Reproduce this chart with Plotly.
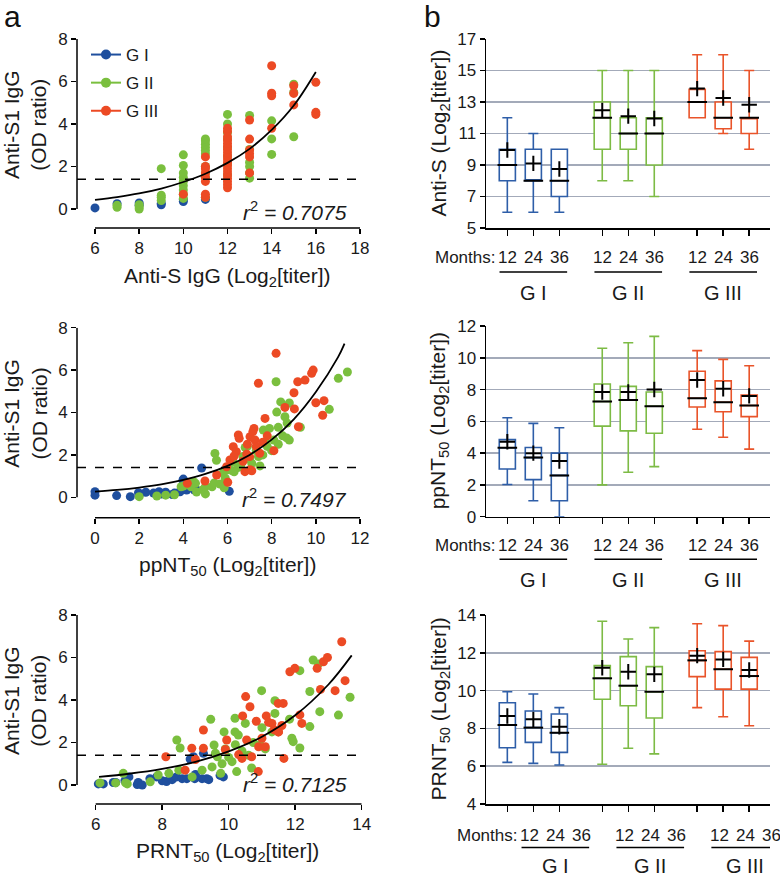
import plotly.graph_objects as go

W, H = 780, 876
FONT = "Arial, Liberation Sans, Helvetica, sans-serif"
BLUE, GREEN, RED = "#1f4f9e", "#7abf3e", "#ec4a24"
BBLUE, BGREEN, BRED = "#2e5ea8", "#7dbb45", "#e9542a"
GRID = "#a3aab9"
TXT = "#1a1a1a"

# ---------------- Panel a data ----------------
# Top: Anti-S IgG (Log2 titer) vs Anti-S1 IgG (OD ratio)
s_gI_x = [6, 7, 8, 8, 9, 9, 10, 10, 11]
s_gI_y = [0.05, 0.25, 0.28, 0.18, 0.2, 0.27, 0.35, 0.45, 0.45]
s_gII_x = [7, 7, 8, 8, 8, 9, 9, 9, 9,
           10, 10, 10, 10, 10, 10, 10, 10, 10,
           11, 11, 11, 11, 11, 11, 11, 11, 11, 11,
           12, 12, 12, 12, 12, 12, 12, 12,
           13, 13, 13, 13, 13, 13,
           14, 14, 14, 15, 15, 15]
s_gII_y = [0.08, 0.18, 0.0, 0.1, 0.2, 0.4, 0.55, 0.65, 1.9,
           0.5, 0.7, 0.9, 1.1, 1.3, 1.5, 1.7, 2.05, 2.55,
           0.55, 1.5, 1.7, 2.0, 2.6, 2.75, 2.9, 3.05, 3.2, 3.3,
           1.6, 2.1, 2.5, 2.9, 3.3, 3.6, 4.0, 4.45,
           1.45, 1.7, 2.0, 2.2, 2.8, 4.4,
           2.57, 3.3, 4.15, 3.4, 5.5, 5.87]
s_gIII_x = [10,
            11, 11, 11, 11, 11, 11, 11, 11,
            12, 12, 12, 12, 12, 12, 12, 12, 12, 12, 12, 12, 12, 12, 12, 12, 12, 12, 12,
            13, 13, 13, 13, 13, 13,
            14, 14, 14, 14, 15, 15, 15, 16, 16, 16]
s_gIII_y = [0.7,
            0.55, 0.7, 1.3, 1.5, 1.7, 1.9, 2.0, 2.45,
            1.0, 1.15, 1.3, 1.45, 1.6, 1.75, 1.9, 2.05, 2.2, 2.35, 2.5, 2.65, 2.8, 2.95, 3.1,
            3.25, 3.4, 3.65, 3.8,
            1.7, 2.45, 2.6, 2.78, 3.29, 4.19,
            3.8, 5.33, 5.45, 6.74, 4.9, 5.44, 5.8, 4.45, 4.55, 5.96]
s_fit_x = [6, 7, 8, 9, 10, 11, 12, 13, 14, 15, 16]
s_fit_y = [0.43, 0.56, 0.73, 0.96, 1.27, 1.66, 2.17, 2.83, 3.72, 4.87, 6.45]

# Middle: ppNT50
p_gI_x = [0, 0, 0.98, 1.6, 1.97, 2.3, 2.65, 2.9, 3.2, 3.5, 3.85, 3.98, 4.15, 4.5,
          4.83, 6.08, 4.3, 3.0, 2.0, 3.6, 4.0, 4.6]
p_gI_y = [0.26, 0.1, 0.08, 0.03, 0.22, 0.24, 0.2, 0.26, 0.24, 0.13, 0.26, 0.8, 0.34, 0.34,
          1.38, 0.28, 0.45, 0.15, 0.1, 0.2, 0.86, 0.35]
p_gII_x = [2.0, 2.8, 3.2, 3.6, 3.9, 4.0, 4.35, 4.45, 4.55, 4.6, 4.9, 5.0, 5.0, 5.3, 5.4,
           5.43, 5.5, 5.66, 5.8, 5.85, 6.0, 6.2, 6.26, 6.49, 6.6, 6.7, 6.8, 6.9, 7.1,
           7.3, 7.4, 7.47, 7.6, 7.62, 7.7, 7.8, 7.9, 8.0, 8.1, 8.2, 8.23, 8.3, 8.3, 8.41,
           8.5, 8.6, 8.7, 8.8, 8.8, 9.3, 10.61, 11.02, 11.43, 7.0, 6.3, 5.9, 8.68]
p_gII_y = [0.03, 0.06, 0.1, 0.12, 0.5, 0.53, 0.5, 0.75, 0.66, 0.25, 0.37, 0.16, 0.5, 0.5,
           0.68, 2.07, 1.75, 0.63, 1.15, 0.45, 1.3, 1.26, 1.66, 1.41, 1.5, 1.92, 2.35, 2.4,
           1.6, 2.2, 1.92, 1.48, 2.0, 3.17, 2.6, 2.4, 3.25, 2.2, 2.7, 5.45, 4.02, 2.5, 3.3,
           4.5, 2.9, 3.8, 3.5, 4.45, 2.7, 3.3, 4.15, 5.61, 5.91, 1.8, 1.2, 0.9, 2.8]
p_gIII_x = [4.18, 4.98, 5.51, 5.96, 6.01, 6.11, 6.26, 6.4, 6.49, 6.53, 6.79, 6.87, 7.0,
            7.02, 7.02, 7.2, 7.25, 7.3, 7.4, 7.46, 7.7, 8.2, 8.6, 9.01, 9.03, 9.18, 9.21,
            9.51, 9.81, 9.88, 10.0, 10.37, 10.31, 6.7, 7.1, 6.9, 7.6, 8.1, 7.8, 6.3, 7.15]
p_gIII_y = [0.66, 0.77, 1.05, 1.44, 0.71, 1.76, 2.39, 2.15, 2.94, 2.78, 1.21, 2.04, 1.92,
            2.86, 1.3, 3.25, 2.7, 2.4, 5.38, 2.08, 3.72, 6.79, 4.24, 4.93, 4.17, 5.45, 3.33,
            5.53, 5.85, 6.0, 4.46, 4.56, 3.87, 1.7, 1.25, 2.5, 2.6, 2.2, 2.9, 1.95, 3.1]
p_fit_x = [0, 1, 2, 3, 4, 5, 6, 7, 8, 9, 10, 11, 11.3]
p_fit_y = [0.27, 0.35, 0.46, 0.61, 0.82, 1.1, 1.48, 2.0, 2.72, 3.68, 4.97, 6.6, 7.25]

# Bottom: PRNT50
r_gI_x = [6.08, 6.23, 6.53, 6.6, 6.88, 7.0, 7.25, 7.28, 7.4, 7.63, 7.83, 8.0, 8.13, 8.3,
          8.43, 8.6, 8.74, 8.84, 8.94, 8.98, 9.2, 9.24, 9.34, 9.4, 9.74, 9.84, 9.0]
r_gI_y = [0.05, 0.05, 0.12, 0.12, 0.2, 0.38, 0.02, 0.12, 0.0, 0.3, 0.38, 0.2, 0.16, 0.25,
          0.38, 0.3, 0.3, 1.22, 1.33, 0.3, 0.3, 1.49, 0.3, 0.25, 0.45, 0.38, 0.5]
r_gII_x = [6.13, 6.6, 6.83, 6.9, 6.95, 7.64, 7.88, 8.2, 8.44, 8.5, 8.54, 8.9, 9.2, 9.46,
           9.56, 9.6, 9.66, 9.76, 9.8, 9.86, 9.9, 10.0, 10.1, 10.19, 10.19, 10.24, 10.29,
           10.4, 10.6, 10.69, 10.74, 10.94, 10.99, 11.1, 11.3, 11.39, 11.39, 11.83, 11.9,
           11.94, 12.14, 12.14, 12.44, 12.44, 12.54, 12.74, 12.7, 13.3, 13.65, 10.5, 11.0,
           9.5, 10.2]
r_gII_y = [0.1, 0.1, 0.55, 0.1, 0.05, 0.15, 0.47, 0.55, 2.12, 0.7, 1.74, 0.38, 0.7, 3.09,
           1.88, 1.5, 1.33, 0.55, 1.0, 2.5, 1.7, 1.3, 1.1, 3.14, 2.5, 0.63, 2.35,
           1.6, 1.4, 0.8, 2.0, 1.9, 4.44, 1.7, 2.5, 3.97, 3.37, 3.1, 2.2,
           2.04, 1.74, 5.38, 4.4, 2.75, 5.88, 3.45, 5.7, 3.29, 4.13, 2.9, 2.7,
           0.85, 1.9]
r_gIII_x = [8.11, 8.69, 8.89, 9.0, 9.24, 9.24, 9.94, 9.9, 10.3, 10.42, 10.51, 10.54, 10.64,
            10.69, 10.83, 10.89, 11.13, 11.2, 11.37, 11.49, 11.49, 11.6, 11.64, 11.66, 12.14,
            12.2, 11.84, 11.99, 12.66, 12.85, 12.97, 12.76, 13.2, 13.5, 13.4, 10.4, 11.0,
            11.5, 11.3, 10.9, 11.1]
r_gIII_y = [1.33, 0.7, 1.73, 1.2, 2.59, 1.73, 2.12, 1.67, 1.43, 3.25, 4.16, 2.12, 3.68,
            1.33, 3.0, 0.63, 3.25, 2.95, 2.6, 3.84, 2.5, 2.8, 3.84, 1.25, 3.3,
            2.9, 5.33, 5.49, 5.49, 5.8, 6.0, 4.5, 4.44, 4.91, 6.74, 1.25, 2.2,
            2.5, 2.9, 1.8, 1.8]
r_fit_x = [6.1, 7, 8, 9, 10, 11, 12, 13, 13.7]
r_fit_y = [0.38, 0.53, 0.76, 1.09, 1.58, 2.27, 3.28, 4.73, 6.1]

cutoff = 1.4
r2_labels = ["0.7075", "0.7497", "0.7125"]

# ---------------- Panel b data ----------------
groups = ["G I", "G II", "G III"]
months = ["12", "24", "36"]
box_pos = [0, 1, 2, 3.65, 4.65, 5.65, 7.3, 8.3, 9.3]

as_lo = [6, 6, 6, 8, 8, 7, 12, 11, 10]
as_q1 = [8, 8, 7, 10, 10, 9, 12, 11.3, 11]
as_med = [9, 8, 8, 12, 11, 11, 13, 12, 12]
as_q3 = [10, 10, 10, 13, 12, 12, 13.8, 13, 12]
as_hi = [12, 11, 10, 15, 15, 15, 16, 16, 15]
as_mean = [9.95, 9.1, 8.75, 12.47, 12.1, 11.95, 13.85, 13.25, 12.83]

pp_lo = [2.03, 1.0, 0.0, 2.0, 2.8, 3.15, 5.5, 5.0, 4.25]
pp_q1 = [3.0, 2.33, 1.0, 5.7, 5.4, 5.25, 6.9, 6.6, 6.3]
pp_med = [4.34, 3.72, 2.6, 7.25, 7.35, 6.95, 7.45, 7.2, 7.0]
pp_q3 = [4.85, 4.35, 4.0, 8.35, 8.2, 7.85, 9.15, 8.55, 7.65]
pp_hi = [6.23, 5.87, 5.6, 10.6, 10.95, 11.35, 10.45, 9.9, 9.5]
pp_mean = [4.72, 4.0, 3.5, 7.85, 7.85, 8.0, 8.6, 8.05, 7.6]

pr_lo = [6.2, 6.15, 6.06, 6.1, 6.95, 6.65, 9.1, 8.62, 8.14]
pr_q1 = [6.98, 7.26, 6.73, 9.54, 9.2, 8.55, 10.74, 10.08, 10.08]
pr_med = [8.18, 8.04, 7.77, 10.65, 10.26, 9.94, 11.6, 11.13, 10.77]
pr_q3 = [9.36, 8.92, 8.76, 11.32, 11.8, 11.27, 12.11, 12.06, 11.76]
pr_hi = [9.94, 9.82, 9.1, 13.67, 12.73, 13.33, 13.54, 13.44, 12.62]
pr_mean = [8.66, 8.48, 8.09, 11.21, 11.0, 10.86, 11.85, 11.65, 11.09]

# ---------------- helpers ----------------
def px(x):
    return x / W

def py(y):
    return 1 - y / H

fig = go.Figure()
ann = []
shapes = []

scatter_sets = [
    (s_gI_x, s_gI_y, s_gII_x, s_gII_y, s_gIII_x, s_gIII_y, s_fit_x, s_fit_y),
    (p_gI_x, p_gI_y, p_gII_x, p_gII_y, p_gIII_x, p_gIII_y, p_fit_x, p_fit_y),
    (r_gI_x, r_gI_y, r_gII_x, r_gII_y, r_gIII_x, r_gIII_y, r_fit_x, r_fit_y),
]
# layout geometry (pixels)
a_ydom = [(39, 228), (327.7, 517.7), (615, 804)]
a_xdom = [(77, 360), (77, 360), (77, 361.7)]
a_xrange = [[5.185, 18], [-0.815, 12], [5.438, 14]]
a_xticks = [list(range(6, 19, 2)), list(range(0, 13, 2)), list(range(6, 15, 2))]
a_xline = [(6, 18), (0, 12), (6, 14)]
a_yrange = [[-0.894, 8], [-0.962, 8], [-0.894, 8]]
a_xtitles = ["Anti-S IgG (Log<sub>2</sub>[titer])",
             "ppNT<sub>50</sub> (Log<sub>2</sub>[titer])",
             "PRNT<sub>50</sub> (Log<sub>2</sub>[titer])"]
a_xtitle_y = [277, 566, 852]
a_r2_y = [211, 498, 783]

layout = dict(width=W, height=H, margin=dict(l=0, r=0, t=0, b=0),
              paper_bgcolor="white", plot_bgcolor="rgba(0,0,0,0)",
              font=dict(family=FONT, size=17, color=TXT),
              template="none", showlegend=True)

TICKF = dict(size=17, color=TXT)

for i, (gx1, gy1, gx2, gy2, gx3, gy3, fx, fy) in enumerate(scatter_sets):
    n = i + 1
    xa = "x" if n == 1 else f"x{n}"
    ya = "y" if n == 1 else f"y{n}"
    for xs, ys, c in [(gx1, gy1, BLUE), (gx2, gy2, GREEN), (gx3, gy3, RED)]:
        fig.add_trace(go.Scatter(x=xs, y=ys, mode="markers", xaxis=xa, yaxis=ya,
                                 marker=dict(color=c, size=9, line=dict(width=0)),
                                 showlegend=False, hoverinfo="skip"))
    fig.add_trace(go.Scatter(x=fx, y=fy, mode="lines", line=dict(color="black", width=1.8, shape="spline"),
                             xaxis=xa, yaxis=ya, showlegend=False, hoverinfo="skip"))
    d0, d1 = a_xdom[i]
    y0, y1 = a_ydom[i]
    layout[f"xaxis{'' if n == 1 else n}"] = dict(
        domain=[px(d0), px(d1)], range=a_xrange[i], anchor=ya, tickmode="array",
        tickvals=a_xticks[i], ticks="outside", ticklen=5, tickwidth=1.5, tickcolor="black",
        showline=False, showgrid=False, zeroline=False, tickfont=TICKF,
        automargin=False)
    layout[f"yaxis{'' if n == 1 else n}"] = dict(
        domain=[py(y1), py(y0)], range=a_yrange[i], anchor=xa, tickmode="array",
        tickvals=[0, 2, 4, 6, 8], ticks="outside", ticklen=5, tickwidth=1.5, tickcolor="black",
        showline=False, showgrid=False, zeroline=False, tickfont=TICKF,
        automargin=False)
    # detached axis lines
    shapes.append(dict(type="line", xref=f"{xa} domain", yref=ya, x0=0, x1=0, y0=0, y1=8,
                       line=dict(color="black", width=1.5)))
    shapes.append(dict(type="line", xref=xa, yref=f"{ya} domain", x0=a_xline[i][0], x1=a_xline[i][1],
                       y0=0, y1=0, line=dict(color="black", width=1.5)))
    # cutoff dashed line
    shapes.append(dict(type="line", xref=f"{xa} domain", yref=ya, x0=0, x1=1, y0=cutoff, y1=cutoff,
                       line=dict(color="black", width=1.5, dash="dash")))
    # y title
    ann.append(dict(text="Anti-S1 IgG<br>(OD ratio)", xref="paper", yref="paper",
                    x=px(25), y=py(y0 + 85), textangle=-90, showarrow=False,
                    font=dict(size=21, color=TXT), xanchor="center", yanchor="middle"))
    ann.append(dict(text=a_xtitles[i], xref="paper", yref="paper", x=px(227), y=py(a_xtitle_y[i]),
                    showarrow=False, font=dict(size=21, color=TXT), xanchor="center", yanchor="middle"))
    ann.append(dict(text=f"<i>r</i><sup>2</sup><i> = {r2_labels[i]}</i>", xref="paper", yref="paper",
                    x=px(349), y=py(a_r2_y[i]), showarrow=False, font=dict(size=21, color=TXT),
                    xanchor="right", yanchor="middle"))

# legend entries (one legend group each so the group gap spaces the rows)
for name, c in [("G I", BLUE), ("G II", GREEN), ("G III", RED)]:
    fig.add_trace(go.Scatter(x=[None], y=[None], mode="lines+markers", name=name, legendgroup=name,
                             line=dict(color=c, width=2), marker=dict(color=c, size=10)))

layout["legend"] = dict(x=px(86), y=py(37), xanchor="left", yanchor="top",
                        font=dict(size=17, color=TXT), bgcolor="rgba(0,0,0,0)",
                        itemwidth=30, traceorder="grouped", tracegroupgap=3)

# ---------------- Panel b ----------------
box_sets = [
    (as_lo, as_q1, as_med, as_q3, as_hi, as_mean, [5, 17], list(range(5, 18, 2)), "Anti-S (Log<sub>2</sub>[titer])"),
    (pp_lo, pp_q1, pp_med, pp_q3, pp_hi, pp_mean, [0, 12], list(range(0, 13, 2)), "ppNT<sub>50</sub> (Log<sub>2</sub>[titer])"),
    (pr_lo, pr_q1, pr_med, pr_q3, pr_hi, pr_mean, [4, 14], list(range(4, 15, 2)), "PRNT<sub>50</sub> (Log<sub>2</sub>[titer])"),
]
b_ydom = [(39, 228), (326, 516.7), (615, 804)]
b_month_y = [257, 545, 835]
b_line_y = [272, 559.3, 847.5]
b_group_y = [293, 580, 866]
b_shift = [0, 0, 22]
box_colors = [BBLUE] * 3 + [BGREEN] * 3 + [BRED] * 3

for j, (lo, q1, med, q3, hi, mean, yr_, yt, ttl) in enumerate(box_sets):
    n = j + 4
    xa, ya = f"x{n}", f"y{n}"
    for k in range(9):
        fig.add_trace(go.Box(x=[box_pos[k]], q1=[q1[k]], median=[med[k]], q3=[q3[k]],
                             lowerfence=[lo[k]], upperfence=[hi[k]], xaxis=xa, yaxis=ya,
                             width=0.62, whiskerwidth=0.62, boxpoints=False,
                             line=dict(color=box_colors[k], width=1.6), fillcolor="white",
                             showlegend=False, hoverinfo="skip"))
    fig.add_trace(go.Scatter(x=box_pos, y=med, mode="markers", xaxis=xa, yaxis=ya,
                             marker=dict(symbol="line-ew", size=14, line=dict(color="black", width=2)),
                             showlegend=False, hoverinfo="skip"))
    fig.add_trace(go.Scatter(x=box_pos, y=mean, mode="markers", xaxis=xa, yaxis=ya,
                             marker=dict(symbol="cross-thin", size=11, color="black",
                                         line=dict(color="black", width=2)),
                             showlegend=False, hoverinfo="skip"))
    y0, y1 = b_ydom[j]
    layout[f"xaxis{n}"] = dict(domain=[px(486), px(770)], range=[-0.82, 10.1], anchor=ya,
                               tickmode="array", tickvals=box_pos, showticklabels=False,
                               ticks="outside", ticklen=6, tickwidth=1.5, tickcolor="black",
                               showline=True, linecolor="black", linewidth=1.5, showgrid=False,
                               zeroline=False, automargin=False)
    layout[f"yaxis{n}"] = dict(domain=[py(y1), py(y0)], range=yr_, anchor=xa, tickmode="array",
                               tickvals=yt, ticks="outside", ticklen=5, tickwidth=1.5, tickcolor="black",
                               showline=True, linecolor="black", linewidth=1.5, showgrid=True,
                               gridcolor=GRID, gridwidth=1.5, zeroline=False,
                               tickfont=TICKF, automargin=False)
    ann.append(dict(text=ttl, xref="paper", yref="paper", x=px(439), y=py((y0 + y1) / 2),
                    textangle=-90, showarrow=False, font=dict(size=21, color=TXT),
                    xanchor="center", yanchor="middle"))
    sh = b_shift[j]
    ann.append(dict(text="Months:", xref=xa, yref="paper", x=box_pos[0], xshift=sh - 10,
                    y=py(b_month_y[j]), showarrow=False, xanchor="right", yanchor="middle",
                    font=dict(size=17, color=TXT)))
    for k in range(9):
        ann.append(dict(text=months[k % 3], xref=xa, yref="paper", x=box_pos[k], xshift=sh,
                        y=py(b_month_y[j]), showarrow=False, xanchor="center", yanchor="middle",
                        font=dict(size=17, color=TXT)))
    for g in range(3):
        p0, p1 = box_pos[3 * g], box_pos[3 * g + 2]
        shapes.append(dict(type="line", xref=xa, yref="paper", x0=p0 - 0.3 + sh / 26,
                           x1=p1 + 0.3 + sh / 26, y0=py(b_line_y[j]), y1=py(b_line_y[j]),
                           line=dict(color="black", width=1.5)))
        ann.append(dict(text=groups[g], xref=xa, yref="paper", x=box_pos[3 * g + 1], xshift=sh,
                        y=py(b_group_y[j]), showarrow=False, xanchor="center", yanchor="middle",
                        font=dict(size=20, color=TXT)))

ann.append(dict(text="a", xref="paper", yref="paper", x=px(2), y=py(16), showarrow=False,
                xanchor="left", yanchor="middle", font=dict(size=30, color="#111")))
ann.append(dict(text="b", xref="paper", yref="paper", x=px(422), y=py(16), showarrow=False,
                xanchor="left", yanchor="middle", font=dict(size=30, color="#111")))

layout["annotations"] = ann
layout["shapes"] = shapes
fig.update_layout(**layout)
fig.write_html("out.html", config={"displayModeBar": False, "staticPlot": True},
               post_script="document.body.style.margin='0px';document.body.style.overflow='hidden';")
